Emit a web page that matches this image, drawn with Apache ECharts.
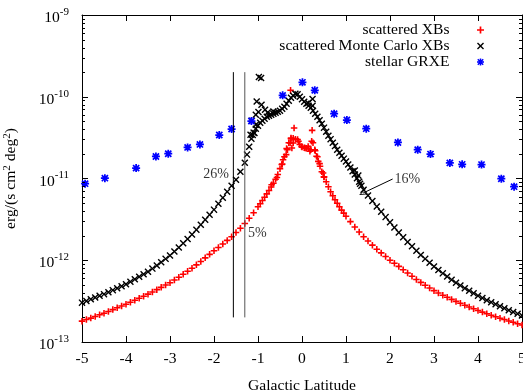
<!DOCTYPE html>
<html><head><meta charset="utf-8">
<script src="https://cdn.jsdelivr.net/npm/echarts@6/dist/echarts.min.js"></script>
<style>html,body{margin:0;padding:0;background:#fff}#c{width:523px;height:392px}</style>
</head><body><div id="c"></div>
<script>
const FONT = 'Liberation Serif';

// scattered XBs (red +)
const xbData = [
[-5.0,1.80e-13],[-4.9,1.88e-13],[-4.8,1.96e-13],[-4.7,2.05e-13],[-4.6,2.15e-13],[-4.5,2.25e-13],[-4.4,2.36e-13],[-4.3,2.49e-13],[-4.2,2.62e-13],[-4.1,2.75e-13],
[-4.0,2.90e-13],[-3.9,3.06e-13],[-3.8,3.24e-13],[-3.7,3.43e-13],[-3.6,3.63e-13],[-3.5,3.85e-13],[-3.4,4.09e-13],[-3.3,4.37e-13],[-3.2,4.66e-13],[-3.1,4.97e-13],
[-3.0,5.32e-13],[-2.9,5.74e-13],[-2.8,6.21e-13],[-2.7,6.73e-13],[-2.6,7.33e-13],[-2.5,7.99e-13],[-2.4,8.78e-13],[-2.3,9.65e-13],[-2.2,1.07e-12],[-2.1,1.18e-12],
[-2.0,1.31e-12],[-1.9,1.43e-12],[-1.8,1.58e-12],[-1.7,1.75e-12],[-1.6,1.94e-12],[-1.5,2.18e-12],[-1.4,2.46e-12],[-1.3,2.82e-12],[-1.2,3.26e-12],[-1.1,3.82e-12],
[-1.0,4.52e-12],[-0.95,4.92e-12],[-0.9,5.38e-12],[-0.85,5.91e-12],[-0.8,6.48e-12],[-0.75,7.13e-12],[-0.7,7.89e-12],[-0.65,8.77e-12],[-0.6,9.80e-12],[-0.55,1.12e-11],
[-0.5,1.32e-11],[-0.45,1.50e-11],[-0.4,1.85e-11],[-0.35,2.32e-11],[-0.3,2.74e-11],[-0.25,3.07e-11],[-0.2,3.10e-11],[-0.15,3.03e-11],[-0.1,2.99e-11],[-0.05,2.60e-11],
[0.0,2.42e-11],[0.05,2.38e-11],[0.1,2.35e-11],[0.15,2.32e-11],[0.2,2.25e-11],[0.25,2.74e-11],[0.3,2.19e-11],[0.35,1.85e-11],[0.4,1.52e-11],[0.45,1.21e-11],
[0.5,1.04e-11],[0.55,9.14e-12],[0.6,7.94e-12],[0.65,6.90e-12],[0.7,6.16e-12],[0.75,5.51e-12],[0.8,4.99e-12],[0.85,4.52e-12],[0.9,4.10e-12],[0.95,3.77e-12],
[1.0,3.46e-12],[1.1,2.97e-12],[1.2,2.55e-12],[1.3,2.22e-12],[1.4,1.94e-12],[1.5,1.72e-12],[1.6,1.53e-12],[1.7,1.36e-12],[1.8,1.23e-12],[1.9,1.11e-12],
[2.0,1.00e-12],[2.1,9.17e-13],[2.2,8.41e-13],[2.3,7.64e-13],[2.4,6.97e-13],[2.5,6.37e-13],[2.6,5.83e-13],[2.7,5.36e-13],[2.8,4.94e-13],[2.9,4.57e-13],
[3.0,4.25e-13],[3.1,3.98e-13],[3.2,3.74e-13],[3.3,3.53e-13],[3.4,3.32e-13],[3.5,3.14e-13],[3.6,2.98e-13],[3.7,2.82e-13],[3.8,2.68e-13],[3.9,2.55e-13],
[4.0,2.43e-13],[4.1,2.32e-13],[4.2,2.22e-13],[4.3,2.12e-13],[4.4,2.04e-13],[4.5,1.95e-13],[4.6,1.88e-13],[4.7,1.81e-13],[4.8,1.74e-13],[4.9,1.67e-13],[5.0,1.61e-13],
[-0.26,1.20e-10],[-0.18,4.15e-11],[0.23,3.88e-11],[-0.25,3.13e-11],[-0.27,2.72e-11],[-0.2,2.72e-11],[-0.33,2.25e-11],[-0.23,2.36e-11],[-0.36,1.96e-11],
[-0.08,2.85e-11],[-0.01,2.47e-11],[0.07,2.36e-11],[0.14,2.47e-11],[0.22,2.85e-11],[0.18,2.15e-11],[0.29,2.25e-11],[0.33,1.87e-11],[0.37,1.62e-11],
[0.41,1.41e-11],[0.48,1.17e-11],[0.5,1.05e-11],[-0.46,1.48e-11],[-0.43,1.70e-11],[-0.57,1.03e-11],[-0.69,8.40e-12]
];

// scattered Monte Carlo XBs (black x)
const mcData = [
[-5.0,3.03e-13],[-4.9,3.18e-13],[-4.8,3.33e-13],[-4.7,3.50e-13],[-4.6,3.67e-13],[-4.5,3.85e-13],[-4.4,4.07e-13],[-4.3,4.31e-13],[-4.2,4.55e-13],[-4.1,4.81e-13],
[-4.0,5.09e-13],[-3.9,5.45e-13],[-3.8,5.85e-13],[-3.7,6.28e-13],[-3.6,6.73e-13],[-3.5,7.25e-13],[-3.4,7.90e-13],[-3.3,8.65e-13],[-3.2,9.46e-13],[-3.1,1.04e-12],
[-3.0,1.14e-12],[-2.9,1.28e-12],[-2.8,1.43e-12],[-2.7,1.61e-12],[-2.6,1.82e-12],[-2.5,2.06e-12],[-2.4,2.36e-12],[-2.3,2.72e-12],[-2.2,3.13e-12],[-2.1,3.60e-12],
[-2.0,4.16e-12],[-1.9,4.92e-12],[-1.8,5.82e-12],[-1.7,6.90e-12],[-1.6,8.17e-12],[-1.5,9.67e-12],[-1.4,1.21e-11],[-1.3,1.56e-11],[-1.25,1.96e-11],[-1.2,2.45e-11],
[-1.15,3.07e-11],[-1.1,3.64e-11],[-1.05,4.07e-11],[-1.0,4.43e-11],[-0.95,4.82e-11],[-0.9,5.10e-11],[-0.85,5.39e-11],[-0.8,5.70e-11],[-0.75,5.87e-11],[-0.7,6.03e-11],
[-0.65,6.21e-11],[-0.6,6.38e-11],[-0.55,6.56e-11],[-0.5,6.75e-11],[-0.45,7.14e-11],[-0.4,7.55e-11],[-0.35,8.23e-11],[-0.3,8.95e-11],[-0.25,9.74e-11],[-0.2,1.03e-10],
[-0.15,1.09e-10],[-0.1,1.075e-10],[-0.05,1.00e-10],[0.0,9.33e-11],[0.05,8.70e-11],[0.1,8.23e-11],[0.15,7.77e-11],[0.2,7.35e-11],[0.25,6.75e-11],[0.3,6.21e-11],
[0.35,5.70e-11],[0.4,5.17e-11],[0.45,4.68e-11],[0.5,4.19e-11],[0.55,3.74e-11],[0.6,3.34e-11],[0.65,3.03e-11],[0.7,2.74e-11],[0.75,2.49e-11],[0.8,2.25e-11],
[0.85,2.07e-11],[0.9,1.90e-11],[0.95,1.75e-11],[1.0,1.61e-11],[1.05,1.48e-11],[1.1,1.36e-11],[1.15,1.23e-11],[1.2,1.12e-11],[1.25,1.01e-11],[1.3,9.14e-12],
[1.35,8.17e-12],[1.4,7.30e-12],[1.5,6.21e-12],[1.6,5.31e-12],[1.7,4.55e-12],[1.8,3.91e-12],[1.9,3.37e-12],[2.0,2.91e-12],[2.1,2.52e-12],[2.2,2.19e-12],
[2.3,1.91e-12],[2.4,1.67e-12],[2.5,1.48e-12],[2.6,1.31e-12],[2.7,1.16e-12],[2.8,1.04e-12],[2.9,9.30e-13],[3.0,8.39e-13],[3.1,7.60e-13],[3.2,6.91e-13],
[3.3,6.31e-13],[3.4,5.78e-13],[3.5,5.32e-13],[3.6,4.91e-13],[3.7,4.55e-13],[3.8,4.23e-13],[3.9,3.95e-13],[4.0,3.69e-13],[4.1,3.46e-13],[4.2,3.25e-13],
[4.3,3.06e-13],[4.4,2.89e-13],[4.5,2.73e-13],[4.6,2.59e-13],[4.7,2.45e-13],[4.8,2.33e-13],[4.9,2.22e-13],[5.0,2.11e-13],
[-0.98,1.74e-10],[-0.93,1.70e-10],[-1.03,8.77e-11],[-0.92,8.00e-11],[-0.84,6.95e-11],[-1.05,6.03e-11],[-1.14,5.09e-11],[-1.05,4.55e-11],[-1.17,3.43e-11],
[-1.12,3.40e-11],[-1.08,3.60e-11],[-0.99,6.50e-11],[-0.78,6.40e-11],[-0.65,6.60e-11],[0.24,9.40e-11],[0.24,7.78e-11],[0.14,8.40e-11],
[1.2,1.25e-11],[1.28,1.09e-11],[1.32,8.64e-12]
];

// stellar GRXE (blue *)
const grxeData = [
[-4.93,8.64e-12],[-4.48,1.01e-11],[-3.77,1.34e-11],[-3.32,1.86e-11],[-3.04,2.01e-11],[-2.60,2.40e-11],[-2.32,2.61e-11],[-1.88,3.40e-11],
[-1.60,4.03e-11],[-1.15,5.05e-11],[-0.44,1.04e-10],[0.01,1.50e-10],[0.29,1.20e-10],[0.73,6.20e-11],[1.02,5.19e-11],[1.46,4.07e-11],
[2.18,2.76e-11],[2.63,2.25e-11],[2.92,1.99e-11],[3.36,1.55e-11],[3.64,1.49e-11],[4.08,1.48e-11],[4.53,9.94e-12],[4.82,7.94e-12]
];

const cutLatitudes = [-1.56, -1.30];
const cutRange = [2e-13, 2e-10];
const annotationTexts = ['26%', '5%', '16%'];
const annotationPoints = [[-1.66, 1.12e-11], [-1.23, 2.16e-12], [2.10, 9.67e-12]];
const arrowFrom = [2.06, 9.86e-12];
const arrowTo = [1.39, 6.65e-12];
const seriesNames = ['scattered XBs', 'scattered Monte Carlo XBs', 'stellar GRXE'];
const decades = [1e-13, 1e-12, 1e-11, 1e-10];
const minorMultipliers = [2, 3, 4, 5, 6, 7, 8, 9];
const minorTicks = [];
decades.forEach(d => minorMultipliers.forEach(m => minorTicks.push(m * d)));

const PLUS = 'path://M3.8,0H6.2V3.8H10V6.2H6.2V10H3.8V6.2H0V3.8H3.8Z';
const CROSS = 'path://M0,1.4L1.4,0L5,3.6L8.6,0L10,1.4L6.4,5L10,8.6L8.6,10L5,6.4L1.4,10L0,8.6L3.6,5Z';
const STAR = 'path://M3.9,0H6.1V3.9H10V6.1H6.1V10H3.9V6.1H0V3.9H3.9Z M0.4,1.9L1.9,0.4L5,3.5L8.1,0.4L9.6,1.9L6.5,5L9.6,8.1L8.1,9.6L5,6.5L1.9,9.6L0.4,8.1L3.5,5Z';
const ARROW = 'path://M5,0L10,10L8.8,10L5,2.4L1.2,10L0,10Z';

const chart = echarts.init(document.getElementById('c'), null, {renderer: 'canvas'});

const axisCommon = {
  axisLine: {show: true, onZero: false, lineStyle: {color: '#000', width: 1}},
  axisTick: {show: true, inside: true, length: 6, lineStyle: {color: '#000', width: 1}},
  splitLine: {show: false},
  minorTick: {show: false},
  minorSplitLine: {show: false}
};

const option = {
  animation: false,
  backgroundColor: '#fff',
  grid: {left: 82, right: 1, top: 15, bottom: 50, containLabel: false, outerBoundsMode: 'none'},
  legend: {
    orient: 'vertical', align: 'right', right: 39, top: 22, padding: 0,
    itemWidth: 52, itemHeight: 7, itemGap: 0, selectedMode: false, symbolKeepAspect: true,
    textStyle: {fontFamily: FONT, fontSize: 15.6, color: '#000', lineHeight: 15.5},
    data: [
      {name: seriesNames[0], icon: PLUS, itemStyle: {color: '#ff0000'}},
      {name: seriesNames[1], icon: CROSS, itemStyle: {color: '#000000'}},
      {name: seriesNames[2], icon: STAR, itemStyle: {color: '#0000ff'}}
    ]
  },
  xAxis: [
    Object.assign({
      type: 'value', min: -5, max: 5, interval: 1, position: 'bottom',
      axisLabel: {fontFamily: FONT, fontSize: 15.6, color: '#000', margin: 9},
      name: 'Galactic Latitude', nameLocation: 'middle', nameGap: 36,
      nameTextStyle: {fontFamily: FONT, fontSize: 15.6, color: '#000'}
    }, axisCommon),
    Object.assign({
      type: 'value', min: -5, max: 5, interval: 1, position: 'top',
      axisLabel: {show: false}
    }, axisCommon)
  ],
  yAxis: [
    Object.assign({
      type: 'log', logBase: 10, min: 1e-13, max: 1e-9, position: 'left',
      axisLabel: {
        margin: 13,
        formatter: v => '{b|10}{s|' + Math.round(Math.log10(v)) + '}',
        rich: {
          b: {fontFamily: FONT, fontSize: 15.6, color: '#000', padding: [6, 0, 0, 0]},
          s: {fontFamily: FONT, fontSize: 11, color: '#000', padding: [0, 0, 6, 0]}
        }
      },
      name: 'erg/(s cm{s|2} deg{s|2})', nameLocation: 'middle', nameGap: 62, nameRotate: 90,
      nameTextStyle: {fontFamily: FONT, fontSize: 15.6, color: '#000',
        rich: {s: {fontFamily: FONT, fontSize: 11, color: '#000', padding: [0, 0, 7, 0]}}}
    }, axisCommon),
    Object.assign({
      type: 'log', logBase: 10, min: 1e-13, max: 1e-9, position: 'right',
      axisLabel: {show: false}
    }, axisCommon)
  ],
  series: [
    {
      name: seriesNames[0], type: 'scatter', data: xbData, symbol: PLUS, symbolSize: 6.5,
      itemStyle: {color: '#ff0000', opacity: 1}, clip: false, z: 3, emphasis: {disabled: true}
    },
    {
      name: seriesNames[1], type: 'scatter', data: mcData, symbol: CROSS, symbolSize: 7,
      itemStyle: {color: '#000000', opacity: 1}, clip: false, z: 4, emphasis: {disabled: true}
    },
    {
      name: seriesNames[2], type: 'scatter', data: grxeData, symbol: STAR, symbolSize: 8,
      itemStyle: {color: '#0000ff', opacity: 1}, clip: false, z: 5, emphasis: {disabled: true}
    },
    ...cutLatitudes.map((x, i) => ({
      type: 'line', data: cutRange.map(v => [x, v]), symbol: 'none', silent: true, z: 6,
      lineStyle: {color: i === 0 ? '#000' : '#555', width: 1}
    })),
    {
      type: 'scatter', silent: true, z: 7, symbolSize: 0,
      data: annotationPoints.map((p, i) => ({
        value: p,
        label: {show: true, formatter: annotationTexts[i], position: i === 0 ? 'left' : 'right', distance: 0,
          fontFamily: FONT, fontSize: 14, color: '#000'}
      })),
      markLine: {
        silent: true, symbol: ['none', ARROW], symbolSize: [7, 9],
        lineStyle: {color: '#000', width: 1, type: 'solid'}, label: {show: false},
        data: [[{coord: arrowFrom}, {coord: arrowTo}]]
      }
    },
    {
      type: 'custom', coordinateSystem: 'cartesian2d', silent: true, z: 8, clip: false,
      data: minorTicks.map(v => [-5, v]),
      renderItem: (params, api) => {
        const p = api.coord([api.value(0), api.value(1)]);
        const cs = params.coordSys;
        const y = Math.round(p[1]) + 0.5;
        return {type: 'group', children: [
          {type: 'line', shape: {x1: cs.x, y1: y, x2: cs.x + 3, y2: y}, style: {stroke: '#000', lineWidth: 1}},
          {type: 'line', shape: {x1: cs.x + cs.width - 3, y1: y, x2: cs.x + cs.width, y2: y}, style: {stroke: '#000', lineWidth: 1}}
        ]};
      }
    }
  ]
};
chart.setOption(option);
</script>
</body></html>
